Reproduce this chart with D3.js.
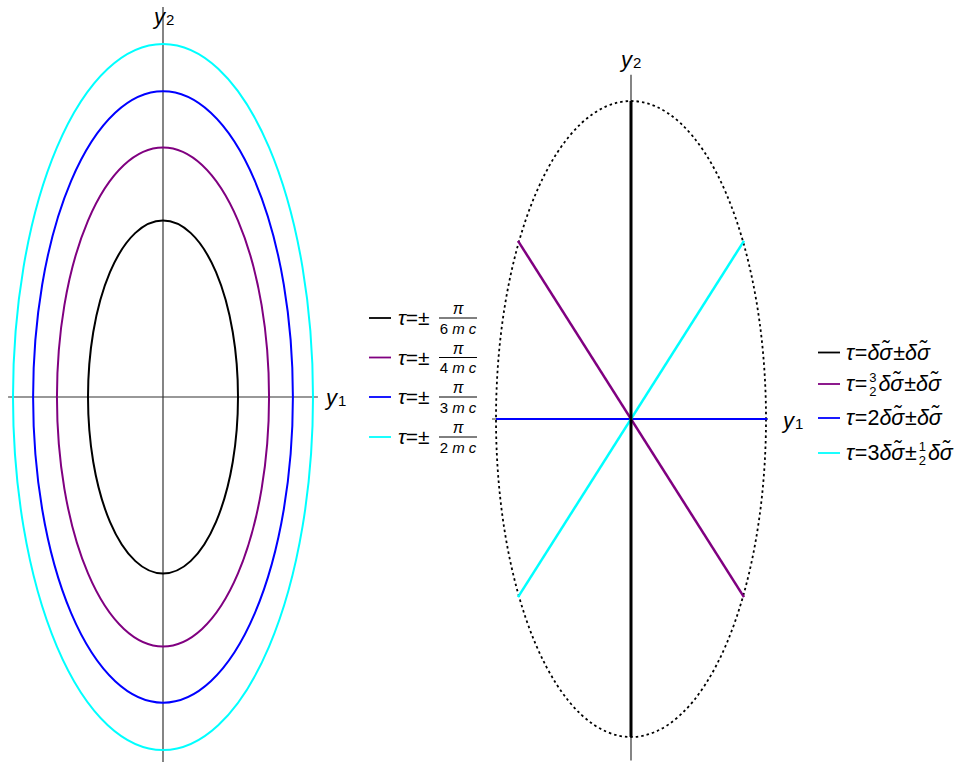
<!DOCTYPE html>
<html>
<head>
<meta charset="utf-8">
<script src="https://cdn.jsdelivr.net/npm/d3@7"></script>
<style>
  html, body { margin: 0; padding: 0; background: #fff; }
  svg { display: block; font-family: "Liberation Sans", Arial, sans-serif; }
</style>
</head>
<body>
<svg id="chart" width="964" height="762"></svg>
<script>
// ---------- data ----------
const leftColors = ["#000000", "#800080", "#0000ff", "#00ffff"];
const leftDenoms = ["6", "4", "3", "2"];
// relative ellipse size for tau = ±pi/(k m c)
const leftRadii = [0.5, 0.707, 0.866, 1.0];
const ellipseRatio = 2.353;   // y2 semi-axis / y1 semi-axis

const rightColors = ["#000000", "#800080", "#0000ff", "#00ffff"];
// segment endpoints (y1, y2) on the dotted ellipse
const rightSegStart = [[0, -2.356], [-0.837, 1.32], [-1.0, 0], [-0.837, -1.32]];
const rightSegEnd   = [[0, 2.356], [0.837, -1.32], [1.01, 0], [0.837, 1.32]];
const rightWidths = [3, 2.5, 2, 2.5];
// legend pieces: strings are main text, arrays are small fractions [num, den]
const DS = "δσ̃";
const rightLegend = [
  ["τ", "=", DS, "±", DS],
  ["τ", "=", ["3", "2"], DS, "±", DS],
  ["τ", "=", "2", DS, "±", DS],
  ["τ", "=", "3", DS, "±", ["1", "2"], DS]
];

const svg = d3.select("#chart");

// ---------- left panel ----------
const xL = d3.scaleLinear().domain([-1, 1]).range([13, 313]);
const yL = d3.scaleLinear().domain([-ellipseRatio, ellipseRatio]).range([750, 44]);

const gL = svg.append("g");
gL.append("line").attr("x1", xL(-1.033)).attr("x2", xL(1.033))
  .attr("y1", yL(0)).attr("y2", yL(0)).attr("stroke", "#333").attr("stroke-width", 1.2);
gL.append("line").attr("x1", xL(0)).attr("x2", xL(0))
  .attr("y1", yL(-2.46)).attr("y2", yL(2.6)).attr("stroke", "#333").attr("stroke-width", 1.2);

gL.selectAll("ellipse.e").data(leftRadii).join("ellipse")
  .attr("class", "e")
  .attr("cx", xL(0)).attr("cy", yL(0))
  .attr("rx", d => xL(d) - xL(0))
  .attr("ry", d => yL(0) - yL(d * ellipseRatio))
  .attr("fill", "none")
  .attr("stroke", (d, i) => leftColors[i])
  .attr("stroke-width", 2);

function axisLabel(g, x, y, sub) {
  const t = g.append("text").attr("x", x).attr("y", y)
    .attr("font-size", 22).attr("fill", "#000");
  t.append("tspan").attr("font-style", "italic").text("y");
  t.append("tspan").attr("font-size", 15).attr("dx", 1).attr("dy", 1).text(sub);
}
axisLabel(gL, 154, 24, "2");
axisLabel(gL, 326, 405, "1");

// left legend
const legL = svg.append("g");
const legLY = [318, 357.5, 397, 437];
leftColors.forEach((c, i) => {
  const y = legLY[i];
  legL.append("line").attr("x1", 369).attr("x2", 391).attr("y1", y).attr("y2", y)
    .attr("stroke", c).attr("stroke-width", 1.8);
  const t = legL.append("text").attr("x", 398).attr("y", y + 7).attr("font-size", 21);
  t.append("tspan").attr("font-style", "italic").text("τ");
  t.append("tspan").text("=±");
  legL.append("line").attr("x1", 439).attr("x2", 477).attr("y1", y).attr("y2", y)
    .attr("stroke", "#000").attr("stroke-width", 1);
  legL.append("text").attr("x", 458).attr("y", y - 4).attr("font-size", 16)
    .attr("text-anchor", "middle").attr("font-style", "italic").text("π");
  legL.append("text").attr("x", 458).attr("y", y + 15.5).attr("font-size", 15)
    .attr("text-anchor", "middle")
    .html(leftDenoms[i] + ' <tspan font-style="italic">m c</tspan>');
});

// ---------- right panel ----------
const xR = d3.scaleLinear().domain([-1, 1]).range([496, 766]);
const yR = d3.scaleLinear().domain([-2.356, 2.356]).range([737, 101]);
const gR = svg.append("g");

gR.append("line").attr("x1", xR(-1.03)).attr("x2", xR(1.015))
  .attr("y1", yR(0)).attr("y2", yR(0)).attr("stroke", "#333").attr("stroke-width", 1.2);
gR.append("line").attr("x1", xR(0)).attr("x2", xR(0))
  .attr("y1", yR(-2.53)).attr("y2", yR(2.55)).attr("stroke", "#333").attr("stroke-width", 1.2);

gR.append("ellipse")
  .attr("cx", xR(0)).attr("cy", yR(0))
  .attr("rx", xR(1) - xR(0)).attr("ry", yR(0) - yR(2.356))
  .attr("fill", "none").attr("stroke", "#000").attr("stroke-width", 1.8)
  .attr("stroke-dasharray", "2.5,3");

const order = [2, 1, 3, 0];
order.forEach(i => {
  gR.append("line")
    .attr("x1", xR(rightSegStart[i][0])).attr("y1", yR(rightSegStart[i][1]))
    .attr("x2", xR(rightSegEnd[i][0])).attr("y2", yR(rightSegEnd[i][1]))
    .attr("stroke", rightColors[i]).attr("stroke-width", rightWidths[i]);
});

axisLabel(gR, 621, 67, "2");
axisLabel(gR, 783, 428, "1");

// right legend
const legR = svg.append("g");
const legRY = [352.5, 384, 418, 453];
rightColors.forEach((c, i) => {
  const y = legRY[i];
  legR.append("line").attr("x1", 818).attr("x2", 840).attr("y1", y).attr("y2", y)
    .attr("stroke", c).attr("stroke-width", 1.8);
  let x = 846;
  rightLegend[i].forEach(p => {
    if (Array.isArray(p)) {
      legR.append("text").attr("x", x + 5.5).attr("y", y - 2).attr("font-size", 13)
        .attr("text-anchor", "middle").text(p[0]);
      legR.append("text").attr("x", x + 5.5).attr("y", y + 12).attr("font-size", 13)
        .attr("text-anchor", "middle").text(p[1]);
      x += 11;
    } else {
      const italic = (p === "τ" || p === DS);
      const t = legR.append("text").attr("x", x).attr("y", y + 7).attr("font-size", 21.5)
        .attr("font-style", italic ? "italic" : "normal").text(p);
      x += t.node().getComputedTextLength() + (italic ? 0.8 : 0);
    }
  });
});
</script>
</body>
</html>
